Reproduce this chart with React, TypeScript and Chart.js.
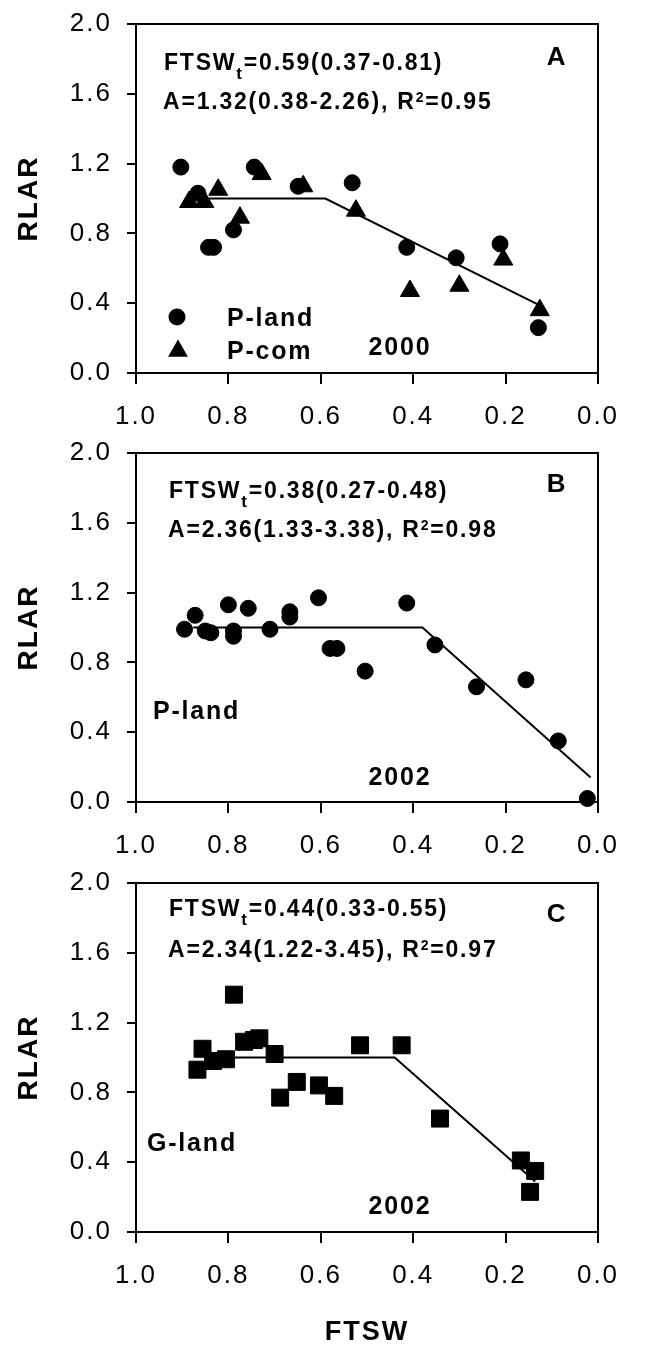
import React, { useEffect, useRef } from 'react';
import { Chart, registerables } from 'chart.js';

Chart.register(...registerables);

const FONT = '"Liberation Sans", Arial, Helvetica, sans-serif';

// ---------- Panel A (2000) ----------
const pLandA_x = [0.903, 0.866, 0.843, 0.832, 0.789, 0.744, 0.649, 0.532, 0.414, 0.307, 0.212, 0.129];
const pLandA_y = [1.18, 1.03, 0.72, 0.72, 0.82, 1.18, 1.07, 1.09, 0.72, 0.66, 0.74, 0.26];
const pComA_x = [0.885, 0.852, 0.822, 0.775, 0.728, 0.638, 0.524, 0.407, 0.30, 0.205, 0.126];
const pComA_y = [0.98, 0.98, 1.05, 0.89, 1.14, 1.07, 0.93, 0.47, 0.50, 0.65, 0.36];
const fitA_x = [0.845, 0.59, 0.125];
const fitA_y = [1.0, 1.0, 0.386];

// ---------- Panel B (2002, P-land) ----------
const pLandB_x = [0.895, 0.872, 0.85, 0.838, 0.80, 0.789, 0.789, 0.757, 0.71, 0.667, 0.667, 0.605, 0.58, 0.565, 0.504, 0.414, 0.353, 0.263, 0.156, 0.086, 0.023];
const pLandB_y = [0.99, 1.07, 0.98, 0.97, 1.13, 0.95, 0.98, 1.11, 0.99, 1.06, 1.09, 1.17, 0.88, 0.88, 0.75, 1.14, 0.90, 0.66, 0.70, 0.35, 0.02];
const fitB_x = [0.876, 0.38, 0.016];
const fitB_y = [1.0, 1.0, 0.141];

// ---------- Panel C (2002, G-land) ----------
const gLandC_x = [0.867, 0.856, 0.833, 0.805, 0.788, 0.766, 0.745, 0.733, 0.70, 0.688, 0.652, 0.604, 0.571, 0.515, 0.425, 0.342, 0.167, 0.136, 0.147];
const gLandC_y = [0.93, 1.05, 0.98, 0.99, 1.36, 1.09, 1.10, 1.11, 1.02, 0.77, 0.86, 0.84, 0.78, 1.07, 1.07, 0.65, 0.41, 0.35, 0.23];
const fitC_x = [0.786, 0.44, 0.136];
const fitC_y = [1.0, 1.0, 0.289];

const xTickValues = [1.0, 0.8, 0.6, 0.4, 0.2, 0.0];
const yTickValues = [0.0, 0.4, 0.8, 1.2, 1.6, 2.0];

type Seg = { t: string; size: number; dy?: number };
type Txt = { dx: number; dy: number; segs: Seg[]; align: 'left' | 'center' };
type Mark = { dx: number; dy: number; shape: 'circle' | 'triangle' };

const eqSegs = (thr: string, a: string, r2: string): Seg[][] => [
  [
    { t: 'FTSW', size: 23 },
    { t: 't', size: 17, dy: 9 },
    { t: '=' + thr, size: 23 },
  ],
  [
    { t: 'A=' + a + ', R', size: 23 },
    { t: '2', size: 14, dy: -7 },
    { t: '=' + r2, size: 23 },
  ],
];

const toPts = (xs: number[], ys: number[]) => xs.map((x, i) => ({ x, y: ys[i] }));

type Panel = {
  top: number;
  height: number;
  padTop: number;
  xAxisH: number;
  showXTitle: boolean;
  datasets: any[];
  texts: Txt[];
  marks: Mark[];
};

const scatterDs = (xs: number[], ys: number[], style: string, r: number) => ({
  type: 'scatter',
  data: toPts(xs, ys),
  pointStyle: style,
  pointRadius: r,
  pointHoverRadius: r,
  backgroundColor: '#000',
  borderColor: '#000',
  pointBorderWidth: 1,
  clip: false,
  showLine: false,
});

const fitDs = (xs: number[], ys: number[]) => ({
  type: 'scatter',
  data: toPts(xs, ys),
  showLine: true,
  borderColor: '#000',
  borderWidth: 2,
  pointRadius: 0,
  fill: false,
  clip: false,
  tension: 0,
});

const eqA = eqSegs('0.59(0.37-0.81)', '1.32(0.38-2.26)', '0.95');
const eqB = eqSegs('0.38(0.27-0.48)', '2.36(1.33-3.38)', '0.98');
const eqC = eqSegs('0.44(0.33-0.55)', '2.34(1.22-3.45)', '0.97');

const panels: Panel[] = [
  {
    top: 0,
    height: 436,
    padTop: 24,
    xAxisH: 63,
    showXTitle: false,
    datasets: [
      fitDs(fitA_x, fitA_y),
      scatterDs(pLandA_x, pLandA_y, 'circle', 8),
      scatterDs(pComA_x, pComA_y, 'triangle', 11),
    ],
    texts: [
      { dx: 28, dy: 37.7, segs: eqA[0], align: 'left' },
      { dx: 27, dy: 77, segs: eqA[1], align: 'left' },
      { dx: 421, dy: 32, segs: [{ t: 'A', size: 26 }], align: 'center' },
      { dx: 91, dy: 293, segs: [{ t: 'P-land', size: 25 }], align: 'left' },
      { dx: 91, dy: 326, segs: [{ t: 'P-com', size: 25 }], align: 'left' },
      { dx: 264, dy: 322, segs: [{ t: '2000', size: 25 }], align: 'center' },
    ],
    marks: [
      { dx: 41, dy: 293, shape: 'circle' },
      { dx: 42, dy: 327, shape: 'triangle' },
    ],
  },
  {
    top: 436,
    height: 429,
    padTop: 17,
    xAxisH: 63,
    showXTitle: false,
    datasets: [fitDs(fitB_x, fitB_y), scatterDs(pLandB_x, pLandB_y, 'circle', 8)],
    texts: [
      { dx: 33, dy: 37, segs: eqB[0], align: 'left' },
      { dx: 32, dy: 76, segs: eqB[1], align: 'left' },
      { dx: 421, dy: 29.5, segs: [{ t: 'B', size: 26 }], align: 'center' },
      { dx: 17, dy: 257, segs: [{ t: 'P-land', size: 25 }], align: 'left' },
      { dx: 264, dy: 323, segs: [{ t: '2002', size: 25 }], align: 'center' },
    ],
    marks: [],
  },
  {
    top: 865,
    height: 481,
    padTop: 18,
    xAxisH: 114,
    showXTitle: true,
    datasets: [fitDs(fitC_x, fitC_y), scatterDs(gLandC_x, gLandC_y, 'rect', 12)],
    texts: [
      { dx: 33, dy: 25, segs: eqC[0], align: 'left' },
      { dx: 32, dy: 66, segs: eqC[1], align: 'left' },
      { dx: 421, dy: 30, segs: [{ t: 'C', size: 26 }], align: 'center' },
      { dx: 11, dy: 259, segs: [{ t: 'G-land', size: 25 }], align: 'left' },
      { dx: 264, dy: 322, segs: [{ t: '2002', size: 25 }], align: 'center' },
    ],
    marks: [],
  },
];

function drawRich(ctx: CanvasRenderingContext2D, x: number, capCenter: number, segs: Seg[], align: string) {
  const base = segs[0].size;
  const baseline = capCenter + 0.358 * base;
  const widths = segs.map((s) => {
    ctx.font = `bold ${s.size}px ${FONT}`;
    return ctx.measureText(s.t).width;
  });
  const total = widths.reduce((a, b) => a + b, 0);
  let cx = align === 'center' ? x - total / 2 : x;
  segs.forEach((s, i) => {
    ctx.font = `bold ${s.size}px ${FONT}`;
    ctx.fillText(s.t, cx, baseline + (s.dy || 0));
    cx += widths[i];
  });
}

const makePlugin = (p: Panel) => ({
  id: 'panelDecor',
  beforeDraw(chart: any) {
    try {
      (chart.ctx as any).letterSpacing = '2px';
    } catch (e) {}
  },
  afterDraw(chart: any) {
    const ctx: CanvasRenderingContext2D = chart.ctx;
    const a = chart.chartArea;
    ctx.save();
    ctx.strokeStyle = '#000';
    ctx.lineWidth = 2;
    ctx.beginPath();
    ctx.moveTo(a.left, a.top);
    ctx.lineTo(a.right, a.top);
    ctx.lineTo(a.right, a.bottom);
    ctx.stroke();

    ctx.fillStyle = '#000';
    try {
      (ctx as any).letterSpacing = '1.8px';
    } catch (e) {}
    ctx.textAlign = 'left';
    ctx.textBaseline = 'alphabetic';
    p.texts.forEach((t) => drawRich(ctx, a.left + t.dx, a.top + t.dy, t.segs, t.align));

    p.marks.forEach((m) => {
      const x = a.left + m.dx;
      const y = a.top + m.dy;
      ctx.beginPath();
      if (m.shape === 'circle') {
        ctx.arc(x, y, 8.5, 0, Math.PI * 2);
      } else {
        const r = 11.5;
        ctx.moveTo(x, y - r);
        ctx.lineTo(x + r * Math.sin((2 * Math.PI) / 3), y - r * Math.cos((2 * Math.PI) / 3));
        ctx.lineTo(x + r * Math.sin((4 * Math.PI) / 3), y - r * Math.cos((4 * Math.PI) / 3));
        ctx.closePath();
      }
      ctx.fill();
    });
    ctx.restore();
  },
});

function PanelChart({ p }: { p: Panel }) {
  const ref = useRef<HTMLCanvasElement | null>(null);
  useEffect(() => {
    if (!ref.current) return;
    const chart = new Chart(ref.current, {
      type: 'scatter',
      data: { datasets: p.datasets },
      options: {
        responsive: false,
        maintainAspectRatio: false,
        animation: false,
        devicePixelRatio: 1,
        layout: { padding: { top: p.padTop, right: 49, left: 0, bottom: 0 } },
        plugins: { legend: { display: false }, tooltip: { enabled: false } },
        scales: {
          x: {
            type: 'linear',
            position: 'bottom',
            min: 0,
            max: 1,
            reverse: true,
            afterFit: (s: any) => {
              s.height = p.xAxisH;
              s.paddingLeft = 0;
              s.paddingRight = 0;
            },
            afterBuildTicks: (s: any) => {
              s.ticks = xTickValues.map((v) => ({ value: v }));
            },
            ticks: {
              callback: (v: any) => Number(v).toFixed(1),
              color: '#000',
              font: { family: FONT, size: 26 },
              padding: 17,
              maxRotation: 0,
              autoSkip: false,
            },
            grid: {
              drawOnChartArea: false,
              drawTicks: true,
              tickLength: 11,
              tickWidth: 2,
              color: '#000',
              lineWidth: 2,
            },
            border: { display: true, color: '#000', width: 2 },
            title: {
              display: p.showXTitle,
              text: 'FTSW',
              color: '#000',
              font: { family: FONT, size: 27, weight: 'bold', lineHeight: 1 },
              padding: { top: 0, bottom: 0 },
            },
          },
          y: {
            type: 'linear',
            position: 'left',
            min: 0,
            max: 2,
            afterFit: (s: any) => {
              s.width = 136;
              s.paddingTop = 0;
              s.paddingBottom = 0;
            },
            afterBuildTicks: (s: any) => {
              s.ticks = yTickValues.map((v) => ({ value: v }));
            },
            ticks: {
              callback: (v: any) => Number(v).toFixed(1),
              color: '#000',
              font: { family: FONT, size: 26 },
              padding: 15,
              autoSkip: false,
            },
            grid: {
              drawOnChartArea: false,
              drawTicks: true,
              tickLength: 9,
              tickWidth: 2,
              color: '#000',
              lineWidth: 2,
            },
            border: { display: true, color: '#000', width: 2 },
            title: {
              display: true,
              text: 'RLAR',
              color: '#000',
              font: { family: FONT, size: 28, weight: 'bold' },
              padding: { top: 12, bottom: 0 },
            },
          },
        },
      } as any,
      plugins: [makePlugin(p)],
    } as any);
    return () => chart.destroy();
  }, [p]);
  return (
    <canvas
      ref={ref}
      width={647}
      height={p.height}
      style={{ position: 'absolute', left: 0, top: p.top, width: 647, height: p.height, display: 'block' }}
    />
  );
}

export default function App() {
  return (
    <div style={{ position: 'absolute', left: 0, top: 0, width: 647, height: 1346, background: '#fff', overflow: 'hidden' }}>
      {panels.map((p, i) => (
        <PanelChart key={i} p={p} />
      ))}
    </div>
  );
}
